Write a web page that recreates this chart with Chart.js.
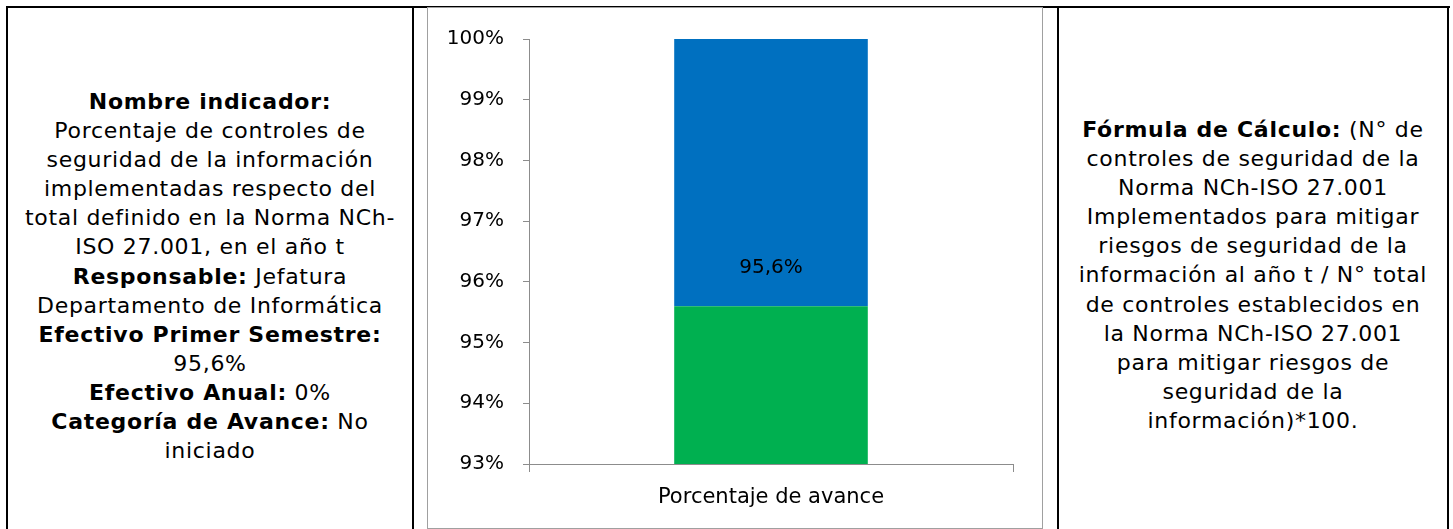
<!DOCTYPE html>
<html>
<head>
<meta charset="utf-8">
<script src="https://cdn.jsdelivr.net/npm/chart.js@4.4.0/dist/chart.umd.min.js"></script>
<style>
  html, body { margin: 0; padding: 0; background: #fff; }
  body { width: 1453px; height: 529px; position: relative; overflow: hidden; }
  .line { position: absolute; background: #000; }
  .cell {
    position: absolute;
    text-align: center; font-family: "DejaVu Sans", sans-serif;
    font-size: 22px; letter-spacing: 0.7px; line-height: 29.1px; color: #000;
  }
  #chartBox {
    position: absolute; left: 427px; top: 7px; width: 614px; height: 520px;
    border: 1px solid #a0a0a0; background: #fff;
  }
</style>
</head>
<body>
<div class="line" style="left:6px; top:6px; width:1444px; height:2px;"></div>
<div class="line" style="left:6px; top:6px; width:2px; height:530px;"></div>
<div class="line" style="left:412px; top:6px; width:2px; height:530px;"></div>
<div class="line" style="left:1057px; top:6px; width:2px; height:530px;"></div>
<div class="line" style="left:1447px; top:6px; width:2px; height:530px;"></div>

<div class="cell" style="left:8px; width:404px; top:87px;">
  <b>Nombre indicador:</b><br>
  Porcentaje de controles de<br>
  seguridad de la información<br>
  implementadas respecto del<br>
  total definido en la Norma NCh-<br>
  ISO 27.001, en el año t<br>
  <b>Responsable:</b> Jefatura<br>
  Departamento de Informática<br>
  <b>Efectivo Primer Semestre:</b><br>
  95,6%<br>
  <b>Efectivo Anual:</b> 0%<br>
  <b>Categoría de Avance:</b> No<br>
  iniciado
</div>

<div id="chartBox"><canvas id="bar"></canvas></div>

<div class="cell" style="left:1059px; width:388px; top:115px;">
  <b>Fórmula de Cálculo:</b> (N° de<br>
  controles de seguridad de la<br>
  Norma NCh-ISO 27.001<br>
  Implementados para mitigar<br>
  riesgos de seguridad de la<br>
  información al año t / N° total<br>
  de controles establecidos en<br>
  la Norma NCh-ISO 27.001<br>
  para mitigar riesgos de<br>
  seguridad de la<br>
  información)*100.
</div>

<script>
const categories = ['Porcentaje de avance']
const avance = [95.6]
const restante = [4.4]
const yTicks = [93, 94, 95, 96, 97, 98, 99, 100]

const axisGray = '#8c8c8c'
const chartFont = '"DejaVu Sans", sans-serif'

// etiqueta del valor sobre la barra verde
const valueLabel = {
    id: 'valueLabel',
    afterDatasetsDraw(chart) {
        const meta = chart.getDatasetMeta(0)
        const ctx = chart.ctx
        ctx.save()
        ctx.font = '20px ' + chartFont
        ctx.fillStyle = '#000'
        ctx.textAlign = 'center'
        ctx.textBaseline = 'middle'
        meta.data.forEach((bar, i) => {
            const txt = avance[i].toFixed(1).replace('.', ',') + '%'
            ctx.fillText(txt, bar.x, bar.y - 38)
        })
        ctx.restore()
    }
}

const canvas = document.getElementById('bar')
canvas.width = 614
canvas.height = 520

new Chart(canvas, {
    type: 'bar',
    data: {
        labels: categories,
        datasets: [
            { data: avance, backgroundColor: '#00B050' },
            { data: restante, backgroundColor: '#0070C0' }
        ]
    },
    options: {
        responsive: false,
        animation: false,
        layout: { padding: { top: 31, right: 29, left: 0, bottom: 0 } },
        plugins: { legend: { display: false }, tooltip: { enabled: false } },
        datasets: { bar: { barPercentage: 0.4, categoryPercentage: 1 } },
        scales: {
            x: {
                stacked: true,
                grid: { drawOnChartArea: false, offset: true, color: axisGray, tickLength: 8 },
                border: { color: axisGray },
                ticks: { color: '#000', font: { family: chartFont, size: 21 }, padding: 13 },
                afterFit(s) { s.height = 64 }
            },
            y: {
                stacked: true,
                min: 93,
                max: 100,
                afterBuildTicks(s) { s.ticks = yTicks.map(v => ({ value: v })) },
                grid: { drawOnChartArea: false, color: axisGray, tickLength: 6 },
                border: { color: axisGray },
                ticks: {
                    color: '#000', font: { family: chartFont, size: 20 }, padding: 19,
                    callback: v => v + '%'
                },
                afterFit(s) { s.width = 101 }
            }
        }
    },
    plugins: [valueLabel]
})
</script>
</body>
</html>
